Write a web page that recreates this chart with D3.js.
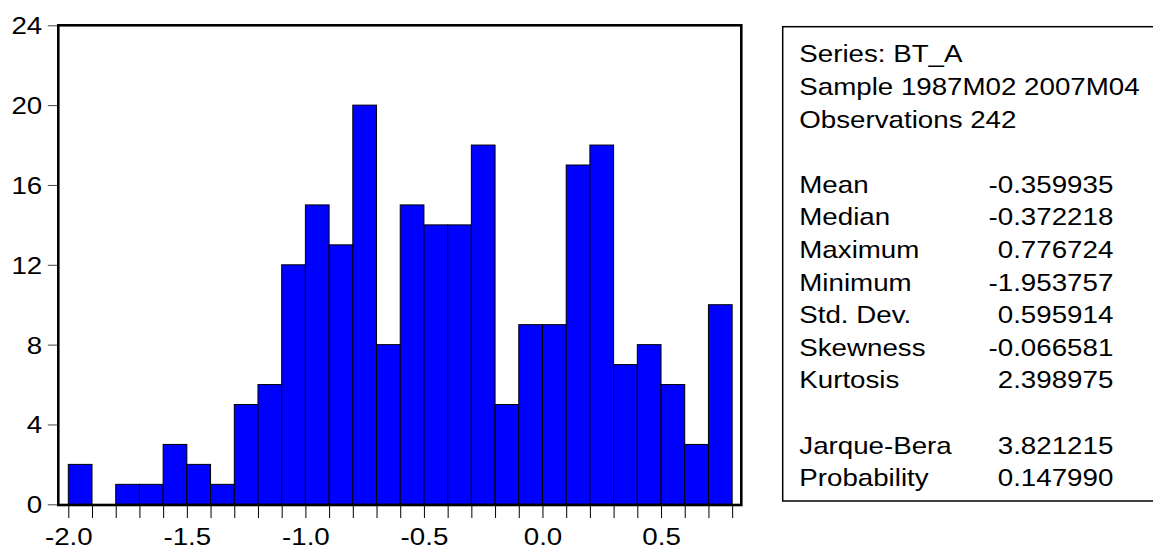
<!DOCTYPE html>
<html>
<head>
<meta charset="utf-8">
<script src="https://cdn.jsdelivr.net/npm/d3@7/dist/d3.min.js"></script>
<style>
  body { margin: 0; background: #fff; }
  text { font-family: Arial, "Liberation Sans", sans-serif; fill: #000; }
</style>
</head>
<body>
<div id="chart"></div>
<script>
// histogram data (bin width 0.1)
var binStarts = [-2.0, -1.9, -1.8, -1.7, -1.6, -1.5, -1.4, -1.3, -1.2, -1.1,
                 -1.0, -0.9, -0.8, -0.7, -0.6, -0.5, -0.4, -0.3, -0.2, -0.1,
                 0.0, 0.1, 0.2, 0.3, 0.4, 0.5, 0.6, 0.7];
var counts = [2, 0, 1, 1, 3, 2, 1, 5, 6, 12,
              15, 13, 20, 8, 15, 14, 14, 18, 5, 9,
              9, 17, 18, 7, 8, 6, 3, 10];
var binWidth = 0.1;
var yTicks = [0, 4, 8, 12, 16, 20, 24];
var xLabels = [-2.0, -1.5, -1.0, -0.5, 0.0, 0.5];

// statistics panel
var headerLines = ["Series: BT_A", "Sample 1987M02 2007M04", "Observations 242"];
var statNames = ["Mean", "Median", "Maximum", "Minimum", "Std. Dev.", "Skewness", "Kurtosis"];
var statValues = ["-0.359935", "-0.372218", "0.776724", "-1.953757", "0.595914", "-0.066581", "2.398975"];
var testNames = ["Jarque-Bera", "Probability"];
var testValues = ["3.821215", "0.147990"];

var width = 1153, height = 549;
var plot = {left: 58.3, right: 741.3, top: 25.3, bottom: 505};
var stretch = "scale(1.155,1)"; // original text is a bit wider than Arial

var svg = d3.select("#chart").append("svg")
    .attr("width", width)
    .attr("height", height);

var x = d3.scaleLinear()
    .domain([-2.0422, 0.8386])
    .range([plot.left, plot.right]);
var y = d3.scaleLinear()
    .domain([0, 24])
    .range([504.3, plot.top]);

// bars (empty bins are not drawn)
svg.selectAll(".bar")
    .data(binStarts)
  .enter().append("rect")
    .attr("class", "bar")
    .attr("x", function (d) { return x(d); })
    .attr("y", function (d, i) { return y(counts[i]); })
    .attr("width", function (d) { return x(d + binWidth) - x(d); })
    .attr("height", function (d, i) { return y(0) - y(counts[i]); })
    .attr("fill", "#0000ff")
    .attr("stroke", "#000")
    .attr("stroke-width", 1)
    .style("display", function (d, i) { return counts[i] > 0 ? null : "none"; });

// x axis: tick at every bin edge, label every 0.5
var edges = binStarts.concat([binStarts[binStarts.length - 1] + binWidth]);
var xAxis = svg.append("g")
    .attr("transform", "translate(0," + plot.bottom + ")")
    .call(d3.axisBottom(x)
      .tickValues(edges)
      .tickSize(13)
      .tickPadding(10)
      .tickFormat(function (d) {
        var hit = xLabels.some(function (v) { return Math.abs(v - d) < 1e-6; });
        return hit ? d.toFixed(1) : "";
      }));
xAxis.select(".domain").remove();
xAxis.selectAll("line").attr("stroke", "#000").attr("stroke-width", 1);
xAxis.selectAll("text")
    .style("font-size", "24px")
    .attr("font-family", null)
    .attr("transform", stretch);

// y axis
var yAxis = svg.append("g")
    .attr("transform", "translate(" + plot.left + ",0)")
    .call(d3.axisLeft(y)
      .tickValues(yTicks)
      .tickSize(10.5)
      .tickPadding(3.4)
      .tickFormat(function (d) { return String(d); }));
yAxis.select(".domain").remove();
yAxis.selectAll("line").attr("stroke", "#444").attr("stroke-width", 1);
yAxis.selectAll("text")
    .style("font-size", "24px")
    .attr("font-family", null)
    .attr("dy", "0.35em")
    .attr("transform", stretch);

// plot frame
svg.append("rect")
    .attr("x", plot.left)
    .attr("y", plot.top)
    .attr("width", plot.right - plot.left)
    .attr("height", plot.bottom - plot.top)
    .attr("fill", "none")
    .attr("stroke", "#000")
    .attr("stroke-width", 2.6);

// stats box (right side runs off the picture)
var box = {left: 782.7, top: 26.7, bottom: 501};
svg.append("rect")
    .attr("x", box.left)
    .attr("y", box.top)
    .attr("width", 420)
    .attr("height", box.bottom - box.top)
    .attr("fill", "none")
    .attr("stroke", "#000")
    .attr("stroke-width", 1.5);

var lineY = function (i) { return 62.3 + i * 32.6; };
var labelX = 799.3, valueX = 1113.3;

var rows = [];
headerLines.forEach(function (t, i) { rows.push({name: t, value: "", line: i}); });
statNames.forEach(function (t, i) { rows.push({name: t, value: statValues[i], line: 4 + i}); });
testNames.forEach(function (t, i) { rows.push({name: t, value: testValues[i], line: 12 + i}); });

svg.selectAll(".stat-name")
    .data(rows)
  .enter().append("text")
    .attr("class", "stat-name")
    .attr("transform", function (d) { return "translate(" + labelX + "," + lineY(d.line) + ")" + stretch; })
    .style("font-size", "24px")
    .text(function (d) { return d.name; });

svg.selectAll(".stat-value")
    .data(rows.filter(function (d) { return d.value !== ""; }))
  .enter().append("text")
    .attr("class", "stat-value")
    .attr("transform", function (d) { return "translate(" + valueX + "," + lineY(d.line) + ")" + stretch; })
    .attr("text-anchor", "end")
    .style("font-size", "24px")
    .text(function (d) { return d.value; });
</script>
</body>
</html>
